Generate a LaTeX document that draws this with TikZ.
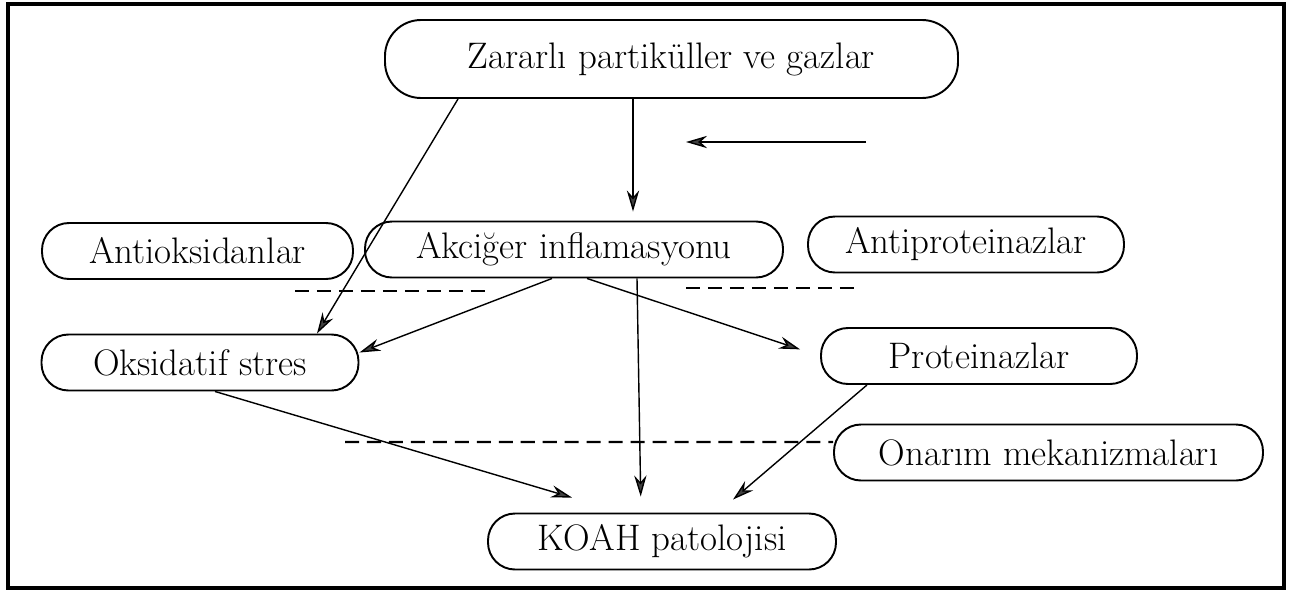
\documentclass[tikz,border=0pt]{standalone}
\usepackage{tikz}
\usetikzlibrary{arrows.meta}
\usetikzlibrary{calc}

\begin{document}
\begin{tikzpicture}[
        box/.style={draw, line width=1.1pt, rounded corners=0.54cm, minimum height=1.12cm,
            font=\fontsize{21}{24}\selectfont, inner sep=0pt},
        flow/.style={line width=0.8pt, -{Stealth[length=12pt, width=7pt, fill=black!75]}},
        cutline/.style={line width=1.3pt, dash pattern=on 8pt off 4.5pt}
    ]
    \useasboundingbox (0,0) rectangle (25.86,11.82);
    % Frame
    \draw[line width=0.08cm] (0.16,0.06) rectangle (25.68,11.74);

    % Boxes
    \node[box, minimum width=11.46cm, minimum height=1.56cm, rounded corners=0.72cm] (zarar) at (13.43,10.64) {Zararlı partiküller ve gazlar};
    \node[box, minimum width=6.22cm] (antiok) at (3.95,6.80) {Antioksidanlar};
    \node[box, minimum width=8.36cm] (akciger) at (11.48,6.83) {Akciğer inflamasyonu};
    \node[box, minimum width=6.32cm] (antiprot) at (19.32,6.93) {Antiproteinazlar};
    \node[box, minimum width=6.34cm] (oksid) at (4.00,4.57) {Oksidatif stres};
    \node[box, minimum width=6.32cm] (prot) at (19.58,4.70) {Proteinazlar};
    \node[box, minimum width=8.58cm] (onarim) at (20.97,2.77) {Onarım mekanizmaları};
    \node[box, minimum width=6.96cm] (koah) at (13.24,0.99) {KOAH patolojisi};

    % Arrows
    \draw[flow] ([xshift=-4.27cm]zarar.south) -- ([xshift=2.34cm]oksid.north);
    \draw[flow, shorten >=0.18cm] ([xshift=-0.77cm]zarar.south) -- ([xshift=1.18cm]akciger.north);
    \coordinate (in1) at (17.32,8.98);
    \coordinate (in2) at (13.72,8.98);
    \draw[flow] (in1) -- (in2);
    \draw[flow] ([xshift=-0.44cm]akciger.south) -- ([yshift=0.2cm]oksid.east);
    \draw[flow, shorten >=0.42cm] ([xshift=0.26cm]akciger.south) -- (prot.west);
    \draw[flow, shorten >=0.32cm] ([xshift=1.26cm]akciger.south) -- ([xshift=-0.42cm]koah.north);
    \draw[flow] ([xshift=0.3cm]oksid.south) -- ([xshift=-1.8cm, yshift=0.3cm]koah.north);
    \draw[flow] ([xshift=-2.24cm]prot.south) -- ([xshift=1.42cm, yshift=0.26cm]koah.north);

    % Dashed lines
    \draw[cutline] (5.90,6.00) -- (9.70,6.00);
    \draw[cutline] (13.72,6.06) -- (17.18,6.06);
    \coordinate (cut) at (6.90,2.98);
    \draw[cutline] (cut) -- ([yshift=0.21cm]onarim.west);
\end{tikzpicture}
\end{document}
